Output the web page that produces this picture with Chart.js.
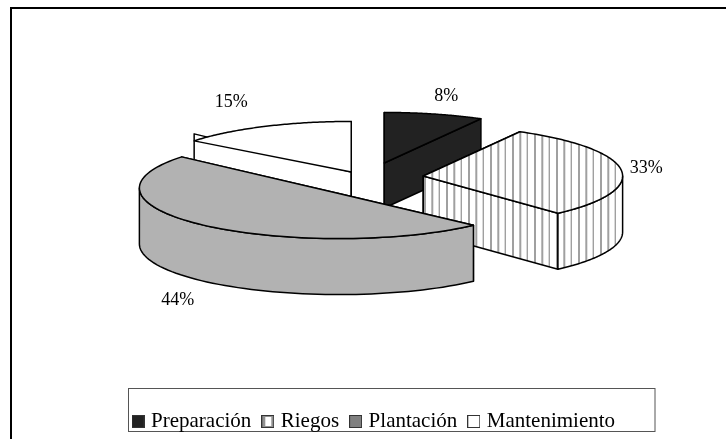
<!DOCTYPE html>
<html>
<head>
<meta charset="utf-8">
<style>
html,body{margin:0;padding:0;background:#fff}
#wrap{position:relative;width:726px;height:439px}
canvas{display:block}
</style>
<script src="https://cdn.jsdelivr.net/npm/chart.js@4"></script>
</head>
<body>
<div id="wrap"><canvas id="c" width="726" height="439"></canvas></div>
<script>
const categories = ['Preparación', 'Riegos', 'Plantación', 'Mantenimiento'];
const percentValues = [8, 33, 44, 15];

const FONT = '"Liberation Serif", "Times New Roman", serif';
const DARK = '#222222', GREY = '#b2b2b2', WHITE = '#ffffff', LINE = '#000000';

function stripes() {
  const p = document.createElement('canvas');
  p.width = 22; p.height = 4;
  const g = p.getContext('2d');
  g.fillStyle = WHITE; g.fillRect(0, 0, 22, 4);
  g.fillStyle = '#a0a0a0';
  [6, 13.3, 20.6].forEach(x => g.fillRect(x, 0, 2, 4));
  return p;
}
const stripeCanvas = stripes();
const stripePattern = document.createElement('canvas').getContext('2d').createPattern(stripeCanvas, 'repeat');

function swatch(fill, inner) {
  const s = document.createElement('canvas');
  s.width = 13; s.height = 13;
  const g = s.getContext('2d');
  g.fillStyle = '#333333'; g.fillRect(0, 0, 13, 13);
  g.fillStyle = fill; g.fillRect(1, 1, 11, 11);
  if (inner) { g.fillStyle = inner; g.fillRect(4, 2, 6, 9); }
  return s;
}
const swatches = [swatch(DARK), swatch('#909090', WHITE), swatch('#808080'), swatch(WHITE)];

// Exploded-pie look: per-slice pull-out, relative to the arc centre the library computes.
const explode = [[5.5, -39.5], [44.5, -26.5], [-40, -14.5], [-27.5, -30.5]];
const depth = [45, 56, 56, 40];
const tipLift = [0, 0, 0, -7];
const apexDrop = [0, 0, 5.5, 0];
const labelShift = [[62, -67], [223, -8], [-161, 112], [-120, -70]];
const fills = [DARK, stripePattern, GREY, WHITE];
// Perspective foreshortening of the slice boundaries (degrees from 12 o'clock).
const warpFrom = [0, 28.8, 147.6, 306, 360];
const warpTo   = [0, 29, 137.5, 308, 360];
function warp(deg) {
  for (let i = 1; i < warpFrom.length; i++) {
    if (deg <= warpFrom[i] + 1e-6) {
      const t = (deg - warpFrom[i - 1]) / (warpFrom[i] - warpFrom[i - 1]);
      return warpTo[i - 1] + t * (warpTo[i] - warpTo[i - 1]);
    }
  }
  return deg;
}

const pie3d = {
  id: 'pie3d',
  beforeDraw(chart) {
    const c = chart.ctx;
    c.save();
    c.fillStyle = '#fff'; c.fillRect(0, 0, chart.width, chart.height);
    c.fillStyle = '#000';
    c.fillRect(10, 7, 716, 2);
    c.fillRect(10, 7, 2, 432);
    c.strokeStyle = '#555'; c.lineWidth = 1;
    c.strokeRect(128.5, 388.5, 526.5, 43);
    c.restore();
  },
  beforeDatasetDraw(chart) {
    const c = chart.ctx;
    const arcs = chart.getDatasetMeta(0).data;
    const order = [3, 0, 1, 2];
    c.save();
    c.lineJoin = 'round';
    c.lineWidth = 1.5;
    c.strokeStyle = LINE;
    for (const i of order) {
      const a = arcs[i];
      const rx = a.outerRadius * 1.025, ry = a.outerRadius * 0.26;
      const cx = a.x + explode[i][0], cy = a.y + explode[i][1];
      const apexY = cy + apexDrop[i];
      const s = warp((a.startAngle + Math.PI / 2) * 180 / Math.PI) * Math.PI / 180;
      const e = warp((a.endAngle + Math.PI / 2) * 180 / Math.PI) * Math.PI / 180;
      const pt = t => [cx + rx * Math.sin(t), cy - ry * Math.cos(t)];
      const h = depth[i];
      const face = (t, lift) => {
        const p = pt(t);
        c.beginPath();
        c.moveTo(cx, apexY); c.lineTo(p[0], p[1] + lift);
        c.lineTo(p[0], p[1] + lift + h); c.lineTo(cx, apexY + h);
        c.closePath(); c.fillStyle = fills[i]; c.fill(); c.stroke();
      };
      face(s, tipLift[i]);
      face(e, 0);
      const bs = Math.max(s, Math.PI / 2), be = Math.min(e, Math.PI * 1.5);
      if (be > bs) {
        c.beginPath();
        const n = 60;
        for (let k = 0; k <= n; k++) { const p = pt(bs + (be - bs) * k / n); k ? c.lineTo(p[0], p[1]) : c.moveTo(p[0], p[1]); }
        for (let k = n; k >= 0; k--) { const p = pt(bs + (be - bs) * k / n); c.lineTo(p[0], p[1] + h); }
        c.closePath(); c.fillStyle = fills[i]; c.fill(); c.stroke();
      }
      c.beginPath();
      c.moveTo(cx, apexY);
      const n = 80;
      for (let k = 0; k <= n; k++) { const p = pt(s + (e - s) * k / n); c.lineTo(p[0], p[1]); }
      c.closePath(); c.fillStyle = fills[i]; c.fill(); c.stroke();
    }
    c.fillStyle = '#000';
    c.font = '18px ' + FONT;
    c.textAlign = 'center'; c.textBaseline = 'middle';
    arcs.forEach((a, i) => {
      c.fillText(percentValues[i] + '%', a.x + explode[i][0] + labelShift[i][0], a.y + explode[i][1] + labelShift[i][1]);
    });
    c.restore();
    return false;
  }
};

new Chart(document.getElementById('c'), {
  type: 'pie',
  data: {
    labels: categories,
    datasets: [{ data: percentValues, backgroundColor: fills, borderWidth: 0 }]
  },
  plugins: [pie3d],
  options: {
    responsive: false,
    animation: false,
    events: [],
    layout: { padding: { left: 121.5, right: 90, top: 8, bottom: -3 } },
    plugins: {
      tooltip: { enabled: false },
      legend: {
        position: 'bottom',
        align: 'start',
        labels: {
          font: { family: FONT, size: 21 },
          color: '#000',
          usePointStyle: true,
          pointStyleWidth: 5,
          padding: 14,
          generateLabels: chart => categories.map((t, i) => ({
            text: t, fillStyle: WHITE, strokeStyle: LINE, lineWidth: 0, pointStyle: swatches[i], index: i, hidden: false
          }))
        }
      }
    }
  }
});
</script>
</body>
</html>
